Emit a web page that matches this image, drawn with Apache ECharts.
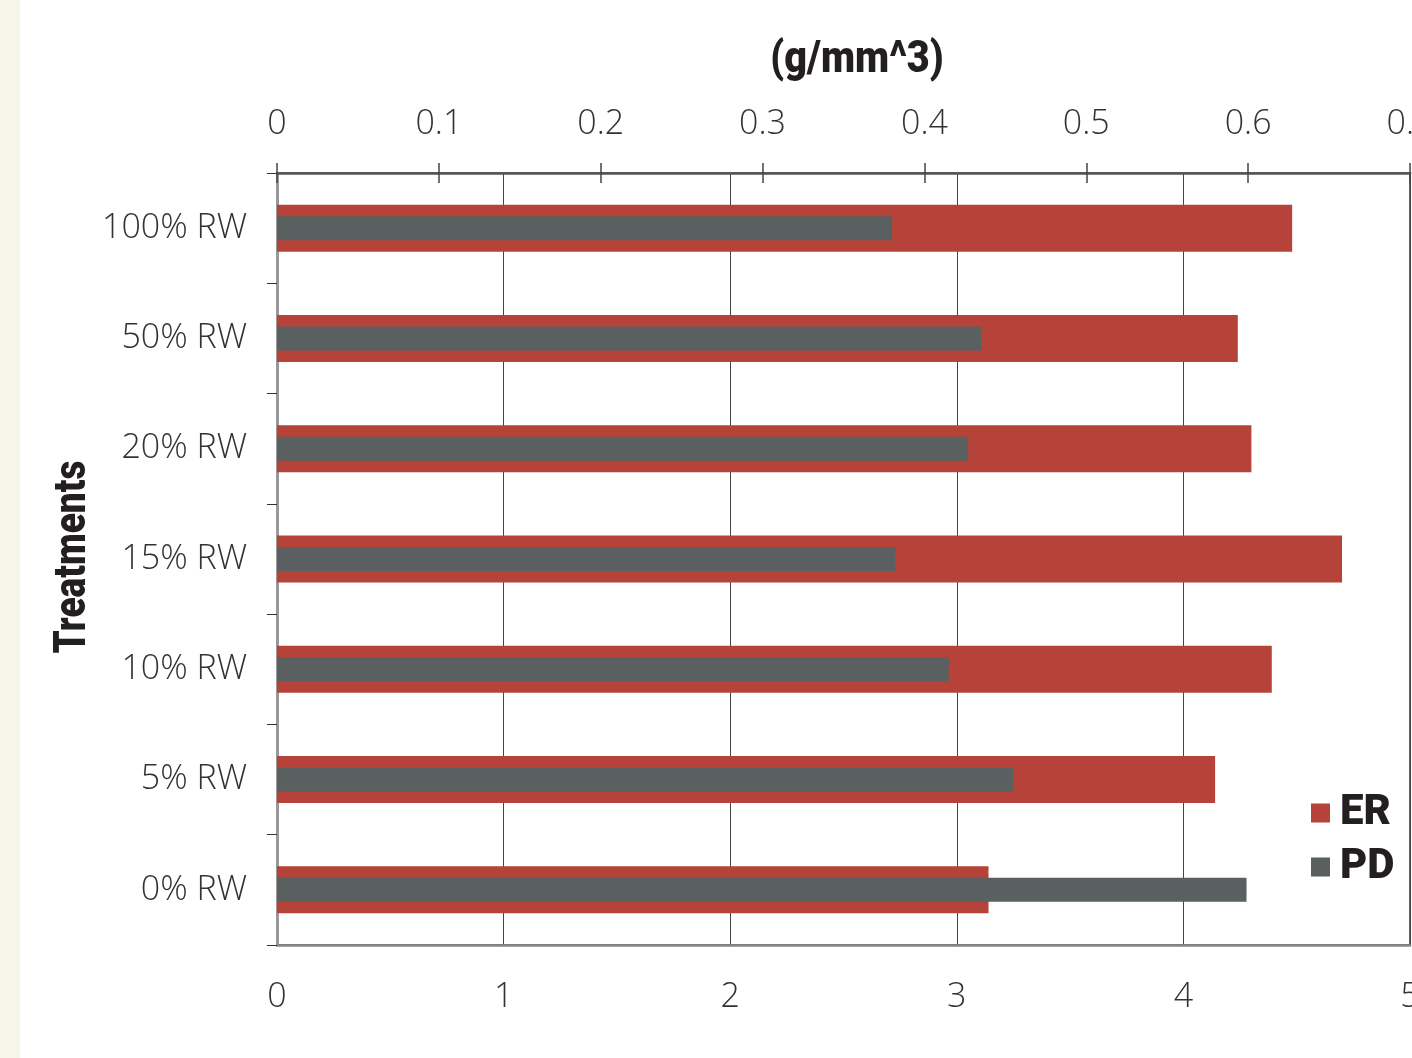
<!DOCTYPE html>
<html>
<head>
<meta charset="utf-8">
<script src="https://cdn.jsdelivr.net/npm/echarts@6/dist/echarts.min.js"></script>
<style>
html,body{margin:0;padding:0;background:#fff;}
#c{width:1412px;height:1058px;}
</style>
</head>
<body>
<div id="c"></div>
<script>
var categories = ['0% RW','5% RW','10% RW','15% RW','20% RW','50% RW','100% RW'];
var erValues = [3.14, 4.14, 4.39, 4.70, 4.30, 4.24, 4.48];
var pdValues = [0.599, 0.455, 0.415, 0.382, 0.427, 0.435, 0.380];
var bottomTicks = [0, 1, 2, 3, 4, 5];
var topTicks = [0, 0.1, 0.2, 0.3, 0.4, 0.5, 0.6, 0.7];
var titleText = '(g/mm^3)';
var yAxisTitle = 'Treatments';

var lightFont = "'Open Sans', 'Noto Sans', sans-serif";
var boldFont = "'Roboto', 'Liberation Sans', sans-serif";

var chart = echarts.init(document.getElementById('c'));
chart.setOption({
  animation: false,
  backgroundColor: '#ffffff',
  graphic: [
    {type: 'rect', left: 0, top: 0, shape: {width: 20, height: 1058}, style: {fill: '#f8f6e8'}, z: -10},
    {type: 'text', x: 857, y: 61, scaleX: 0.88,
      style: {text: titleText, fontFamily: boldFont, fontWeight: 900, fontSize: 45, fill: '#231f20',
        align: 'center', verticalAlign: 'middle'}},
    {type: 'text', x: 74, y: 557, rotation: Math.PI / 2, scaleX: 0.84,
      style: {text: yAxisTitle, fontFamily: boldFont, fontWeight: 900, fontSize: 44, fill: '#231f20',
        align: 'center', verticalAlign: 'middle'}}
  ],
  legend: {
    orient: 'vertical',
    left: 1311, top: 792, padding: 0,
    itemWidth: 19, itemHeight: 19, itemGap: 12,
    icon: 'rect',
    textStyle: {fontFamily: boldFont, fontWeight: 900, fontSize: 42, color: '#231f20', padding: [0,0,0,5]},
    data: ['ER', 'PD']
  },
  grid: {
    left: 277, right: 2, top: 173, bottom: 113,
    containLabel: false, outerBoundsMode: 'none',
    show: true, borderColor: '#333', borderWidth: 1.5, backgroundColor: 'transparent'
  },
  xAxis: [
    {
      type: 'value', position: 'bottom', min: 0, max: 5, interval: 1,
      axisLine: {show: true, lineStyle: {color: '#888', width: 2.5}},
      axisTick: {show: false},
      splitLine: {show: true, lineStyle: {color: '#444', width: 1}},
      axisLabel: {margin: 35, fontFamily: lightFont, fontWeight: 300, fontSize: 34, color: '#333',
        formatter: function (v) { return bottomTicks.indexOf(v) >= 0 ? String(v) : ''; }}
    },
    {
      type: 'value', position: 'top', min: 0, max: 0.7, interval: 0.1,
      axisLine: {show: true, lineStyle: {color: '#555', width: 2.5}},
      axisTick: {show: true, length: 10, lineStyle: {color: '#444', width: 1.5}},
      splitLine: {show: false},
      axisLabel: {margin: 32, fontFamily: lightFont, fontWeight: 300, fontSize: 34, color: '#333',
        formatter: function (v) {
          var r = Math.round(v * 10) / 10;
          return topTicks.indexOf(r) >= 0 ? String(r) : '';
        }}
    },
    {
      type: 'value', position: 'top', min: 0, max: 0.7, interval: 0.1,
      axisLine: {show: false},
      axisTick: {show: true, inside: true, length: 10, lineStyle: {color: '#444', width: 1.5}},
      axisLabel: {show: false},
      splitLine: {show: false}
    }
  ],
  yAxis: [
    {
      type: 'category', data: categories,
      axisLine: {show: true, lineStyle: {color: '#999', width: 3}},
      axisTick: {show: true, length: 10, lineStyle: {color: '#333', width: 1}},
      axisLabel: {margin: 30, fontFamily: lightFont, fontWeight: 300, fontSize: 34, color: '#333'},
      splitLine: {show: false}
    },
    {
      type: 'category', data: categories, show: false
    }
  ],
  series: [
    {
      name: 'ER', type: 'bar', xAxisIndex: 0, yAxisIndex: 0,
      data: erValues, barWidth: 47,
      itemStyle: {color: '#b5433a'}
    },
    {
      name: 'PD', type: 'bar', xAxisIndex: 1, yAxisIndex: 1,
      data: pdValues, barWidth: 24,
      itemStyle: {color: '#5a605f'}
    }
  ]
});
</script>
</body>
</html>
